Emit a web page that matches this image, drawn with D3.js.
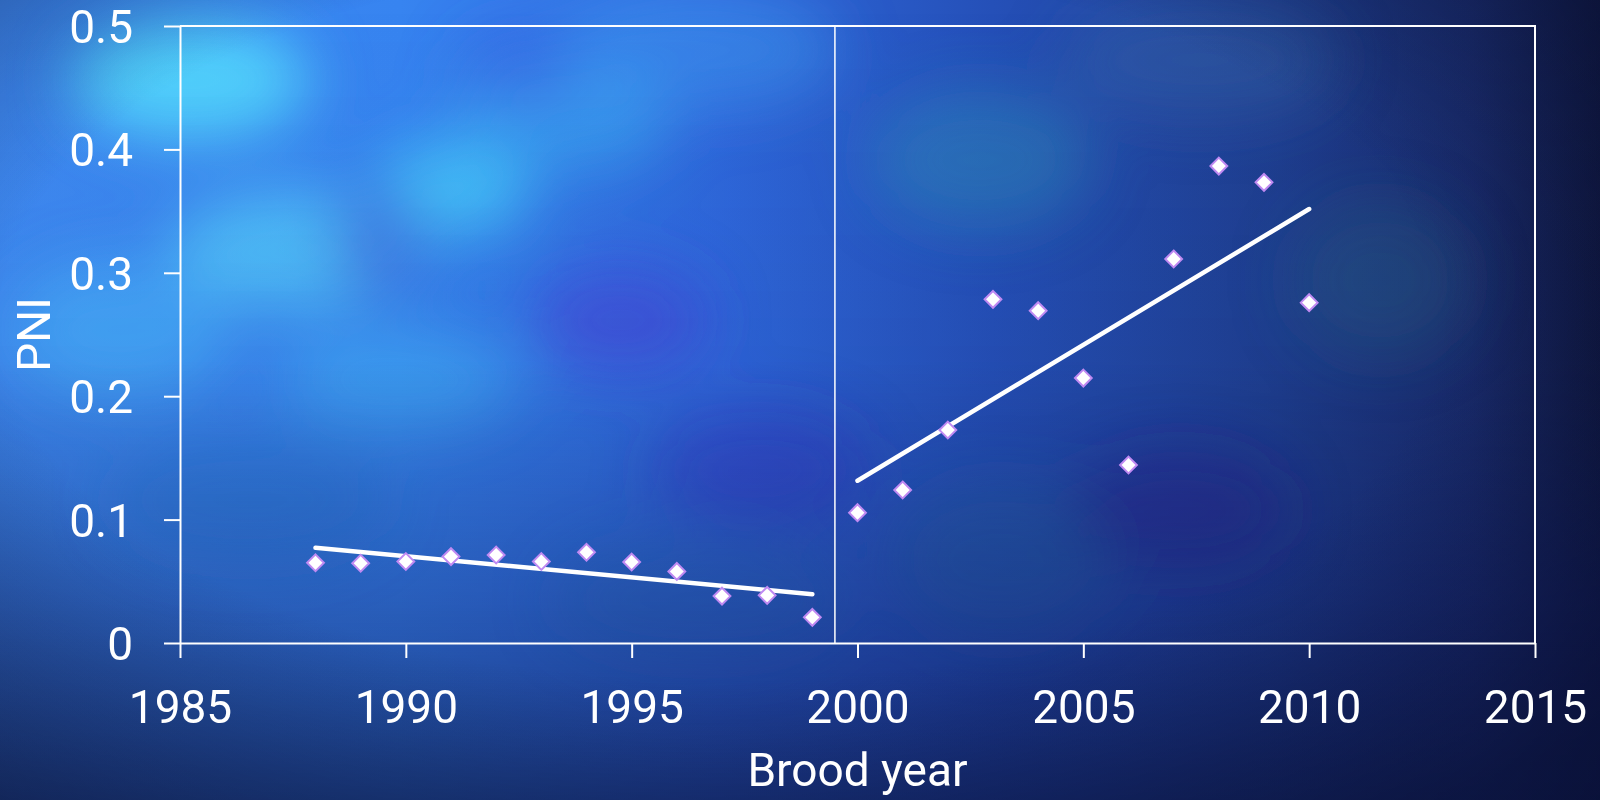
<!DOCTYPE html>
<html>
<head>
<meta charset="utf-8">
<script src="https://cdn.jsdelivr.net/npm/d3@7"></script>
<style>
  html, body { margin: 0; padding: 0; background: #1a2a80; }
  svg { display: block; }
  text { font-family: Roboto, "Liberation Sans", sans-serif; fill: #ffffff; }
</style>
</head>
<body>
<svg id="chart" width="1600" height="800"></svg>
<script>
// ---- data ----
const years = [1988, 1989, 1990, 1991, 1992, 1993, 1994, 1995, 1996, 1997, 1998, 1999,
               2000, 2001, 2002, 2003, 2004, 2005, 2006, 2007, 2008, 2009, 2010];
const pni = [0.065, 0.0646, 0.066, 0.070, 0.0713, 0.066, 0.0735, 0.0656, 0.058, 0.038, 0.0386, 0.0208,
             0.1056, 0.124, 0.1726, 0.2785, 0.2693, 0.2147, 0.1442, 0.3112, 0.3865, 0.3733, 0.2758];
const trend1Years = [1988, 1999];
const trend1Values = [0.0772, 0.0395];
const trend2Years = [2000, 2010];
const trend2Values = [0.1315, 0.3517];
const breakYear = 1999.5;
const xTicks = [1985, 1990, 1995, 2000, 2005, 2010, 2015];
const yTicks = [0, 0.1, 0.2, 0.3, 0.4, 0.5];
const xTitle = "Brood year";
const yTitle = "PNI";

// ---- layout ----
const W = 1600, H = 800;
const m = { left: 180, right: 65, top: 26, bottom: 157 };
const svg = d3.select("#chart");
const defs = svg.append("defs");

// ---- background ----
const bg = defs.append("linearGradient").attr("id", "bgH").attr("x1", 0).attr("x2", 1).attr("y1", 0).attr("y2", 0);
[[0, "#3f8af2"], [0.25, "#3784f0"], [0.45, "#2f68dc"], [0.62, "#2550b8"], [0.8, "#1f3f90"], [0.92, "#1a2c6c"], [1, "#101840"]]
  .forEach(([o, c]) => bg.append("stop").attr("offset", o).attr("stop-color", c));
const bgV = defs.append("linearGradient").attr("id", "bgV").attr("x1", 0).attr("x2", 0).attr("y1", 0).attr("y2", 1);
[[0, "rgba(10,20,70,0)"], [0.45, "rgba(10,20,70,0.05)"], [0.75, "rgba(15,25,90,0.35)"], [1, "rgba(12,20,70,0.6)"]]
  .forEach(([o, c]) => bgV.append("stop").attr("offset", o).attr("stop-color", c));
const vig = defs.append("radialGradient").attr("id", "vig").attr("cx", 0.45).attr("cy", 0.4).attr("r", 0.75);
[[0, "rgba(8,15,50,0)"], [0.6, "rgba(8,15,50,0)"], [1, "rgba(8,15,50,0.55)"]]
  .forEach(([o, c]) => vig.append("stop").attr("offset", o).attr("stop-color", c));
defs.append("filter").attr("id", "blur").attr("x", "-50%").attr("y", "-50%").attr("width", "200%").attr("height", "200%")
  .append("feGaussianBlur").attr("stdDeviation", 30);

svg.append("rect").attr("width", W).attr("height", H).attr("fill", "url(#bgH)");
const blobs = [
  [190, 80, 120, 60, "#55e4ff", 0.8],
  [300, 250, 130, 60, "#5ae0ff", 0.6],
  [450, 190, 80, 45, "#48dcff", 0.7],
  [120, 330, 110, 70, "#4cc0ff", 0.5],
  [560, 120, 110, 55, "#3cb8f8", 0.5],
  [400, 380, 120, 50, "#44c0ff", 0.45],
  [700, 50, 140, 60, "#40a0f4", 0.45],
  [380, 240, 50, 60, "#3a48d8", 0.5],
  [620, 320, 90, 55, "#4a3ed8", 0.5],
  [520, 70, 60, 40, "#3a58e0", 0.45],
  [760, 470, 110, 60, "#3a2ec8", 0.4],
  [980, 160, 110, 70, "#2f90b8", 0.45],
  [1200, 60, 140, 60, "#3a6aa8", 0.35],
  [1000, 560, 110, 80, "#2a66a4", 0.4],
  [1180, 510, 110, 60, "#2a2090", 0.5],
  [1380, 280, 90, 80, "#2a6480", 0.35],
  [700, 600, 150, 60, "#2474bc", 0.35],
  [250, 500, 140, 60, "#2a7ad8", 0.4]
];
const bgG = svg.append("g").attr("filter", "url(#blur)");
blobs.forEach(([cx, cy, rx, ry, c, o]) =>
  bgG.append("ellipse").attr("cx", cx).attr("cy", cy).attr("rx", rx).attr("ry", ry).attr("fill", c).attr("opacity", o));
svg.append("rect").attr("width", W).attr("height", H).attr("fill", "url(#bgV)");
svg.append("rect").attr("width", W).attr("height", H).attr("fill", "url(#vig)");

// ---- scales ----
const x = d3.scaleLinear().domain([1985, 2015]).range([m.left, W - m.right]);
const y = d3.scaleLinear().domain([0, 0.5]).range([H - m.bottom, m.top]);

const fontSize = 46;

// frame (top & right)
svg.append("path")
  .attr("d", `M${x(1985)},${y(0.5)}H${x(2015)}V${y(0)}`)
  .attr("fill", "none").attr("stroke", "#fff").attr("stroke-width", 2);

// break line
svg.append("line")
  .attr("x1", x(breakYear)).attr("x2", x(breakYear))
  .attr("y1", y(0.5)).attr("y2", y(0))
  .attr("stroke", "#fff").attr("stroke-width", 1.5);

// axes
const yAxis = d3.axisLeft(y).tickValues(yTicks).tickSize(16).tickSizeOuter(0).tickPadding(31)
  .tickFormat(d => d === 0 ? "0" : d3.format(".1f")(d));
const gy = svg.append("g").attr("transform", `translate(${m.left},0)`).call(yAxis);
const xAxis = d3.axisBottom(x).tickValues(xTicks).tickSize(15).tickSizeOuter(0).tickPadding(32)
  .tickFormat(d3.format("d"));
const gx = svg.append("g").attr("transform", `translate(0,${H - m.bottom})`).call(xAxis);
[gx, gy].forEach(g => {
  g.select(".domain").attr("stroke", "#fff").attr("stroke-width", 2);
  g.selectAll(".tick line").attr("stroke", "#fff").attr("stroke-width", 2);
  g.selectAll(".tick text").attr("fill", "#fff").style("font-size", fontSize + "px")
    .style("font-family", "Roboto, 'Liberation Sans', sans-serif");
});
gy.selectAll(".tick text").attr("dy", "0.36em");

// trend lines
const line = d3.line().x(d => x(d[0])).y(d => y(d[1]));
[[trend1Years, trend1Values], [trend2Years, trend2Values]].forEach(([ys, vs]) => {
  svg.append("path").datum(ys.map((yr, i) => [yr, vs[i]]))
    .attr("d", line).attr("fill", "none").attr("stroke", "#fff")
    .attr("stroke-width", 4.5).attr("stroke-linecap", "round");
});

// points
const sym = d3.symbol().type(d3.symbolDiamond2).size(180);
svg.append("g").selectAll("path").data(years.map((yr, i) => [yr, pni[i]])).join("path")
  .attr("transform", d => `translate(${x(d[0])},${y(d[1])})`)
  .attr("d", sym)
  .attr("fill", "#ffffff").attr("stroke", "#c08af2").attr("stroke-width", 2);

// titles
svg.append("text").attr("x", (x(1985) + x(2015)) / 2).attr("y", 786)
  .attr("text-anchor", "middle").style("font-size", fontSize + "px").text(xTitle);
svg.append("text").attr("transform", `translate(50,${(y(0) + y(0.5)) / 2}) rotate(-90)`)
  .attr("text-anchor", "middle").style("font-size", fontSize + "px").text(yTitle);
</script>
</body>
</html>
